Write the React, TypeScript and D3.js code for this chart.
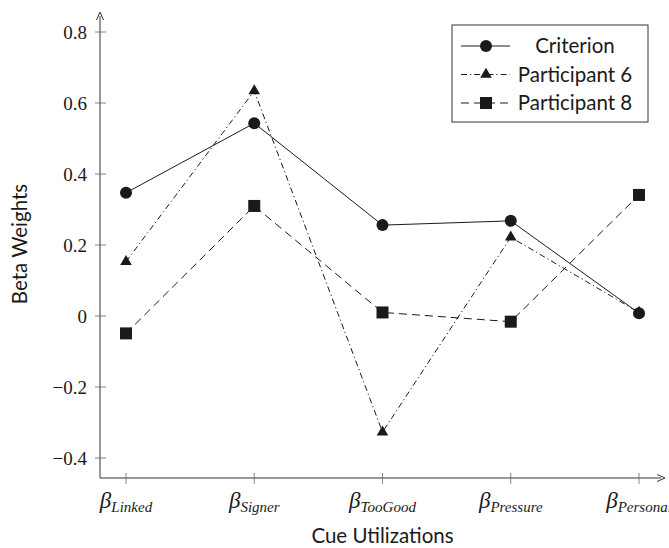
import React from "react";
import * as d3 from "d3";

const categories = ["Linked", "Signer", "TooGood", "Pressure", "Personal"];
const criterion = [0.347, 0.543, 0.256, 0.268, 0.008];
const participant6 = [0.153, 0.634, -0.327, 0.222, 0.01];
const participant8 = [-0.049, 0.31, 0.01, -0.016, 0.341];
const yTicks = [-0.4, -0.2, 0, 0.2, 0.4, 0.6, 0.8];
const seriesNames = ["Criterion", "Participant 6", "Participant 8"];

const W = 669;
const H = 548;

export default function App() {
  const x = d3.scalePoint<string>().domain(categories).range([126, 639]);
  const y = d3.scaleLinear().domain([-0.4, 0.8]).range([458, 32]);
  const axisX = 100;
  const axisY = 478;

  const line = d3
    .line<number>()
    .x((_, i) => x(categories[i]) as number)
    .y((d) => y(d));

  const series = [
    { name: seriesNames[0], data: criterion, dash: "none", marker: "circle" },
    { name: seriesNames[1], data: participant6, dash: "6,3,1.2,3", marker: "triangle" },
    { name: seriesNames[2], data: participant8, dash: "8,5", marker: "square" },
  ];

  const marker = (type: string, cx: number, cy: number, key: string) => {
    if (type === "circle") return <circle key={key} cx={cx} cy={cy} r={6} fill="#1a1a1a" />;
    if (type === "square")
      return <rect key={key} x={cx - 6} y={cy - 6} width={12} height={12} fill="#1a1a1a" />;
    const r = 6.7;
    return (
      <path
        key={key}
        d={`M${cx},${cy - r} L${cx + 0.866 * r},${cy + 0.5 * r} L${cx - 0.866 * r},${cy + 0.5 * r} Z`}
        fill="#1a1a1a"
      />
    );
  };

  const serif = "'Liberation Serif', 'DejaVu Serif', serif";
  const sans = "Lato, 'DejaVu Sans', sans-serif";

  return (
    <svg width={W} height={H} style={{ position: "absolute", left: 0, top: 0 }}>
      <rect width={W} height={H} fill="white" />
      {/* axes */}
      <line x1={axisX} y1={axisY} x2={axisX} y2={16} stroke="#333" strokeWidth={1} />
      <path d={`M${axisX - 3.5},${20} L${axisX},${12} L${axisX + 3.5},${20}`} fill="none" stroke="#333" strokeWidth={1} />
      <line x1={axisX} y1={axisY} x2={661} y2={axisY} stroke="#333" strokeWidth={1} />
      <path d={`M${657},${axisY - 3.5} L${665},${axisY} L${657},${axisY + 3.5}`} fill="none" stroke="#333" strokeWidth={1} />

      {yTicks.map((t) => (
        <g key={t}>
          <line x1={95} x2={106} y1={y(t)} y2={y(t)} stroke="#666" strokeWidth={0.8} />
          <text
            x={87}
            y={y(t)}
            dy="0.35em"
            textAnchor="end"
            fontFamily={serif}
            fontSize={19}
            fill="#1a1a1a"
          >
            {t === 0 ? "0" : d3.format(".1f")(t).replace("-", "\u2212")}
          </text>
        </g>
      ))}

      {categories.map((c) => (
        <g key={c}>
          <line x1={x(c)} x2={x(c)} y1={473} y2={484} stroke="#666" strokeWidth={0.8} />
          <text x={x(c) as number} y={508} textAnchor="middle" fontFamily={serif} fill="#1a1a1a">
            <tspan fontSize={23} fontStyle="italic">β</tspan>
            <tspan fontSize={15} fontStyle="italic" dy={4}>{c}</tspan>
          </text>
        </g>
      ))}

      <text x={382.5} y={543} textAnchor="middle" fontFamily={sans} fontSize={20.5} fill="#1a1a1a">
        Cue Utilizations
      </text>
      <text
        transform={`translate(27,244) rotate(-90)`}
        textAnchor="middle"
        fontFamily={sans}
        fontSize={20.5}
        fill="#1a1a1a"
      >
        Beta Weights
      </text>

      {series.map((s) => (
        <g key={s.name}>
          <path
            d={line(s.data) || ""}
            fill="none"
            stroke="#1a1a1a"
            strokeWidth={1}
            strokeDasharray={s.dash}
          />
          {s.data.map((v, i) => marker(s.marker, x(categories[i]) as number, y(v), s.name + i))}
        </g>
      ))}

      {/* legend */}
      <rect x={452} y={25} width={196} height={97} fill="white" stroke="#333" strokeWidth={1} />
      {series.map((s, i) => {
        const ly = 46 + i * 28.5;
        return (
          <g key={s.name}>
            <line x1={461} x2={510} y1={ly} y2={ly} stroke="#1a1a1a" strokeWidth={1} strokeDasharray={s.dash} />
            {marker(s.marker, 486, ly, "lg" + i)}
            <text x={575} y={ly} dy="0.36em" textAnchor="middle" fontFamily={sans} fontSize={20.5} fill="#1a1a1a">
              {s.name}
            </text>
          </g>
        );
      })}
    </svg>
  );
}
